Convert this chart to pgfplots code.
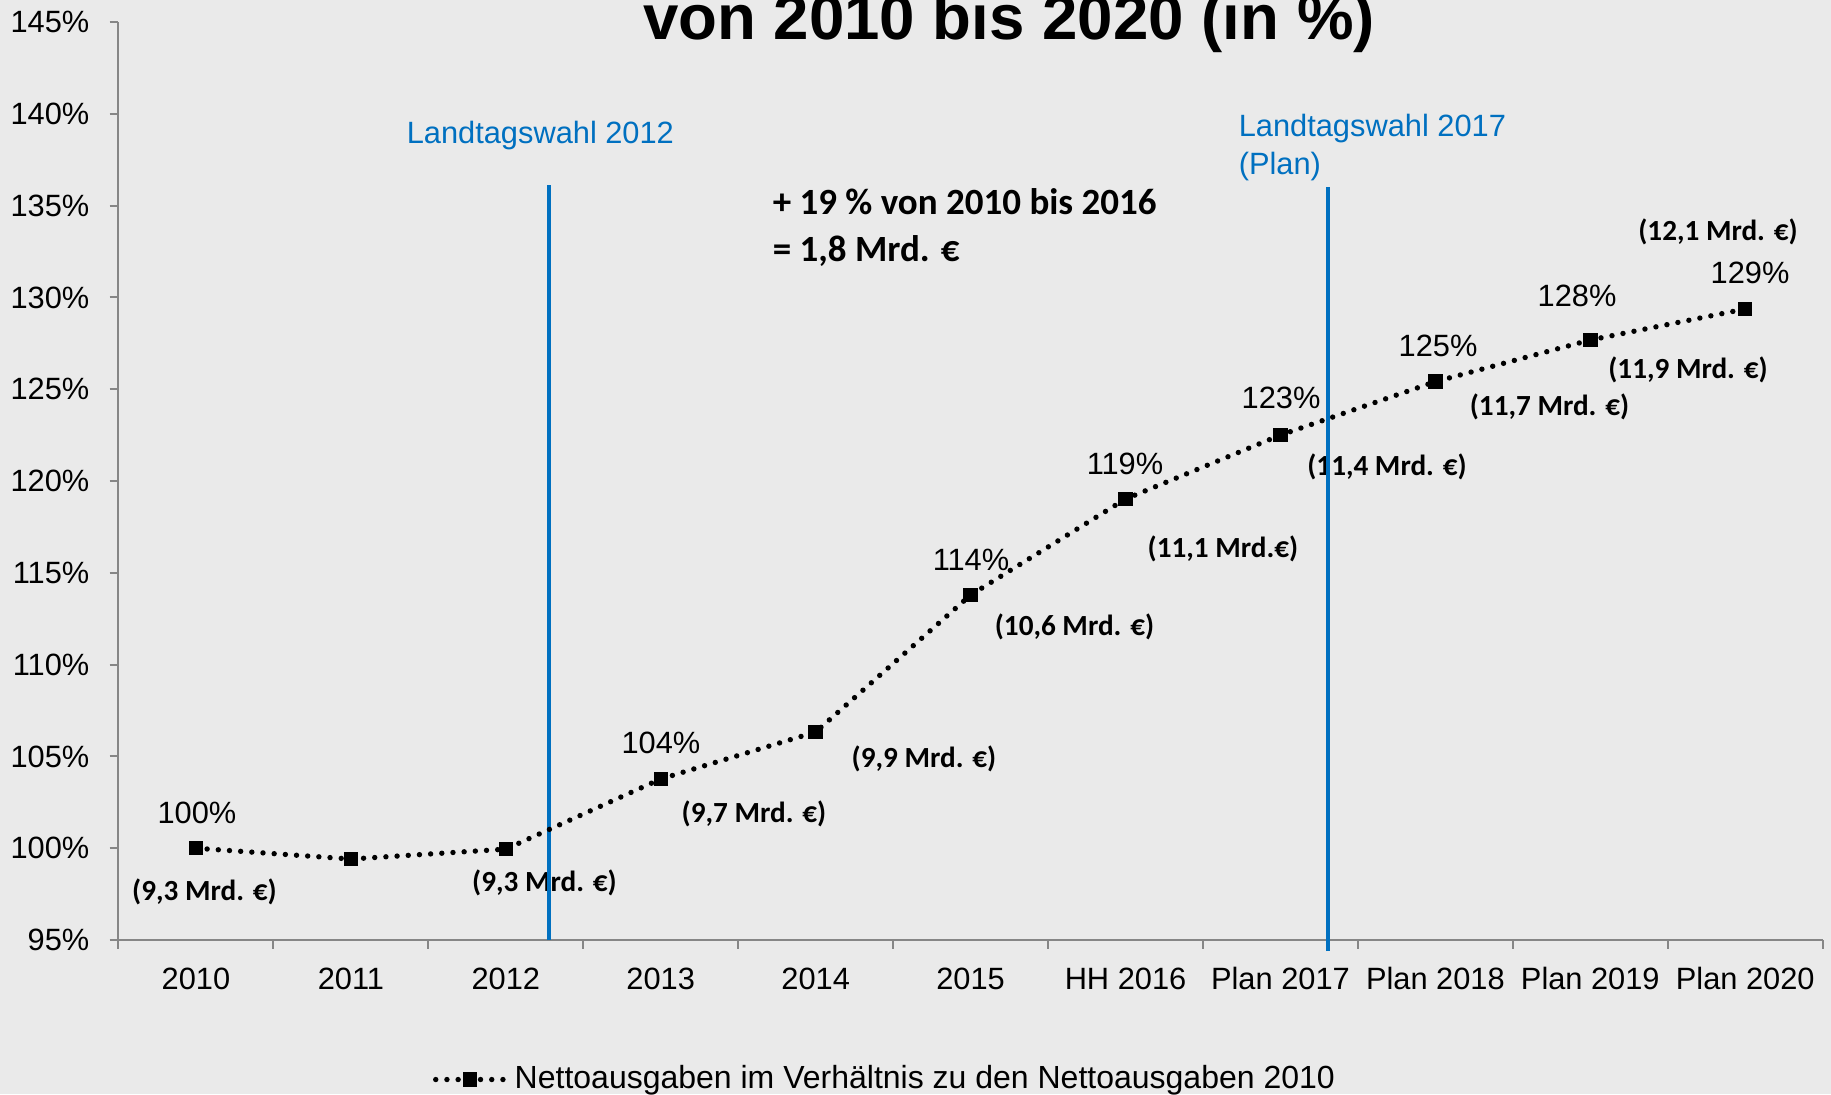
\documentclass[border=0pt]{standalone}
\usepackage{pgfplots}
\pgfplotsset{compat=1.18}
\usepackage{fontspec}
\setmainfont{Liberation Sans}
\newfontfamily\calibri{Carlito}
\definecolor{bg}{RGB}{234,234,234}
\definecolor{axisgray}{RGB}{134,134,134}
\definecolor{lwblue}{RGB}{0,112,192}
\newcommand\arialtxt{\fontsize{7.7}{9.5}\selectfont}
\newcommand\mrd{\calibri\bfseries\fontsize{7.3}{9}\selectfont}

\begin{document}
\begin{tikzpicture}
% pixel grid of the reference (1 px = 0.25pt), origin at the axis corner
\begin{scope}[x=0.25pt,y=-0.25pt,shift={(-29.625pt,235pt)}]
  \fill[bg] (0,0) rectangle (1831,1094);
  % title (top line cut off like in the original)
  \node[anchor=base, inner sep=0pt, font=\bfseries\fontsize{15.9}{18}\selectfont] at (1009,40) {von 2010 bis 2020 (in \%)};
  % percentages
  \begin{scope}[every node/.style={anchor=base, inner sep=0pt, font=\arialtxt}]
    \node at (197,823) {100\%};
    \node at (661,753) {104\%};
    \node at (971,570) {114\%};
    \node at (1125,474) {119\%};
    \node at (1281,409) {123\%};
    \node at (1438,356) {125\%};
    \node at (1577,307) {128\%};
    \node at (1750,283) {129\%};
  \end{scope}
  % amounts
  \begin{scope}[every node/.style={anchor=base, inner sep=0pt, font=\mrd}]
    \node at (204.5,900) {(9,3 Mrd. €)};
    \node at (544.5,891) {(9,3 Mrd. €)};
    \node at (754,822) {(9,7 Mrd. €)};
    \node at (924,767) {(9,9 Mrd. €)};
    \node at (1074.5,635) {(10,6 Mrd. €)};
    \node at (1223,557) {(11,1 Mrd.€)};
    \node at (1387,475) {(11,4 Mrd. €)};
    \node at (1549.5,415) {(11,7 Mrd. €)};
    \node at (1688,378) {(11,9 Mrd. €)};
    \node at (1718,240) {(12,1 Mrd. €)};
  \end{scope}
  % election labels
  \begin{scope}[every node/.style={anchor=base west, inner sep=0pt, font=\arialtxt, text=lwblue}]
    \node at (406,144) {Landtagswahl 2012};
    \node at (1238,137) {Landtagswahl 2017};
    \node at (1238,175) {(Plan)};
  \end{scope}
  \begin{scope}[every node/.style={anchor=base west, inner sep=0pt, font=\calibri\bfseries\fontsize{9.25}{11}\selectfont}]
    \node at (772,215) {+ 19 \% von 2010 bis 2016};
    \node at (772,262) {= 1,8 Mrd. €};
  \end{scope}
\end{scope}

\begin{axis}[
    at={(0,0)}, anchor=south west,
    scale only axis,
    width=426.05pt, height=229.5pt,
    xmin=-0.5, xmax=10.5,
    ymin=95, ymax=145,
    clip=false,
    axis x line*=bottom, axis y line*=left,
    axis line style={axisgray, line width=0.5pt},
    tick style={axisgray, line width=0.5pt},
    tick align=outside,
    major tick length=2.2pt,
    xtick={-0.5,0.5,...,10.5},
    x tick label as interval,
    xticklabels={2010,2011,2012,2013,2014,2015,HH 2016,Plan 2017,Plan 2018,Plan 2019,Plan 2020},
    ytick={95,100,...,145},
    yticklabels={95\%,100\%,105\%,110\%,115\%,120\%,125\%,130\%,135\%,140\%,145\%},
    tick label style={font=\arialtxt, text=black, inner sep=0pt},
    yticklabel shift=4.9pt,
    xticklabel shift=4.5pt,
    legend style={at={(0.4515,-0.152)}, anchor=center, draw=none, fill=none,
        font=\fontsize{8}{9.5}\selectfont, inner sep=0pt},
    legend cell align=left,
]
    % Landtagswahl markers
    \addplot[lwblue, line width=1pt, forget plot] coordinates {(2.279,95) (2.279,136.12)};
    \addplot[lwblue, line width=1pt, forget plot] coordinates {(7.31,94.4) (7.31,136.0)};

    % Nettoausgaben, 2010 = 100
    \addplot[black, line width=1.35pt, dash pattern=on 0pt off 2.8pt, line cap=round,
        mark=square*, mark size=1.6pt, mark options={solid, line width=0.4pt}] coordinates {
        (0,100.0) (1,99.41) (2,99.95) (3,103.77) (4,106.33) (5,113.79)
        (6,119.02) (7,122.5) (8,125.41) (9,127.68) (10,129.37)
    };
    \legend{Nettoausgaben im Verhältnis zu den Nettoausgaben 2010}
\end{axis}

\pgfresetboundingbox
\begin{scope}[x=0.25pt,y=-0.25pt,shift={(-29.625pt,235pt)}]
  \path[use as bounding box] (0,0) rectangle (1831,1094);
\end{scope}
\end{tikzpicture}
\end{document}
